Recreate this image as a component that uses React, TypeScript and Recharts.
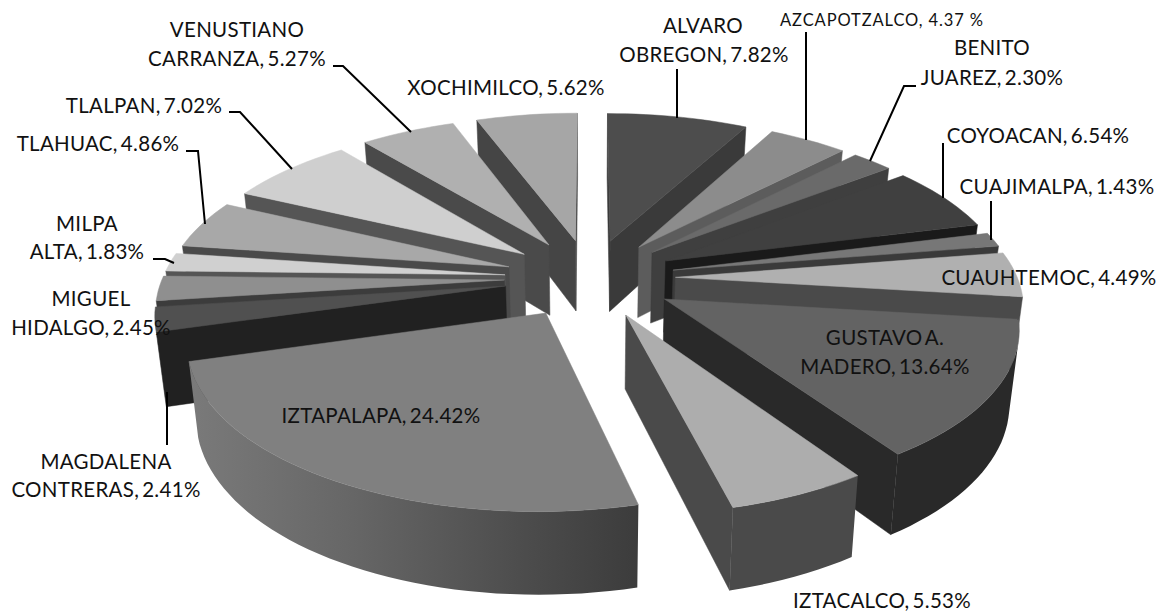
import { PieChart, Pie } from 'recharts';

const districts = [
  'ALVARO OBREGON', 'AZCAPOTZALCO', 'BENITO JUAREZ', 'COYOACAN', 'CUAJIMALPA', 'CUAUHTEMOC',
  'GUSTAVO A. MADERO', 'IZTACALCO', 'IZTAPALAPA', 'MAGDALENA CONTRERAS', 'MIGUEL HIDALGO',
  'MILPA ALTA', 'TLAHUAC', 'TLALPAN', 'VENUSTIANO CARRANZA', 'XOCHIMILCO',
];
const shares = [7.82, 4.37, 2.3, 6.54, 1.43, 4.49, 13.64, 5.53, 24.42, 2.41, 2.45, 1.83, 4.86, 7.02, 5.27, 5.62];

const topFills = [
  '#4d4d4d', '#8c8c8c', '#6a6a6a', '#404040', '#777777', '#b0b0b0', '#636363', '#adadad',
  '#808080', '#505050', '#8f8f8f', '#d0d0d0', '#a8a8a8', '#cfcfcf', '#b0b0b0', '#a6a6a6',
];
const sideFills = [
  '#3a3a3a', '#5c5c5c', '#3f3f3f', '#1a1a1a', '#3a3a3a', '#4a4a4a', '#292929', '#4a4a4a',
  '#4a4a4a', '#212121', '#3c3c3c', '#555555', '#4a4a4a', '#555555', '#4a4a4a', '#454545',
];

const rows = districts.map((name, i) => ({ name, value: shares[i] }));

// right half runs clockwise from the top, left half counter-clockwise, so the back slices paint first
const SPLIT = 8;
const rightRows = rows.slice(0, SPLIT);
const leftRows = rows.slice(SPLIT).reverse();
const total = shares.reduce((s, v) => s + v, 0);
const rightSweep = (rightRows.reduce((s, d) => s + d.value, 0) / total) * 360;
const leftSweep = 360 - rightSweep;

// text position: [x, baseline y] per line; all centred
const labelLayout: Record<string, { lines: [string, number, number][]; small?: boolean; leader?: number[][] }> = {
  'ALVARO OBREGON': { lines: [['ALVARO', 703, 33], ['OBREGON, 7.82%', 704, 62]], leader: [[677, 69], [677, 118]] },
  AZCAPOTZALCO: { lines: [['AZCAPOTZALCO, 4.37 %', 882, 26]], small: true, leader: [[806, 32], [806, 140]] },
  'BENITO JUAREZ': { lines: [['BENITO', 992, 55], ['JUAREZ, 2.30%', 992, 85]], leader: [[916, 86], [904, 86], [870, 161]] },
  COYOACAN: { lines: [['COYOACAN, 6.54%', 1038, 143]], leader: [[943, 143], [943, 198]] },
  CUAJIMALPA: { lines: [['CUAJIMALPA, 1.43%', 1057, 194]], leader: [[991, 201], [991, 240]] },
  CUAUHTEMOC: { lines: [['CUAUHTEMOC, 4.49%', 1049, 285]] },
  'GUSTAVO A. MADERO': { lines: [['GUSTAVO A.', 885, 345], ['MADERO, 13.64%', 885, 374]] },
  IZTACALCO: { lines: [['IZTACALCO, 5.53%', 882, 608]] },
  IZTAPALAPA: { lines: [['IZTAPALAPA, 24.42%', 381, 423]] },
  'MAGDALENA CONTRERAS': { lines: [['MAGDALENA', 106, 469], ['CONTRERAS, 2.41%', 106, 497]], leader: [[167, 392], [167, 445]] },
  'MIGUEL HIDALGO': { lines: [['MIGUEL', 91, 306], ['HIDALGO, 2.45%', 91, 335]] },
  'MILPA ALTA': { lines: [['MILPA', 87, 231], ['ALTA, 1.83%', 87, 259]], leader: [[153, 259], [165, 259], [174, 263]] },
  TLAHUAC: { lines: [['TLAHUAC, 4.86%', 98, 151]], leader: [[186, 151], [198, 151], [205, 224]] },
  TLALPAN: { lines: [['TLALPAN, 7.02%', 144, 113]], leader: [[229, 112], [240, 112], [292, 169]] },
  'VENUSTIANO CARRANZA': { lines: [['VENUSTIANO', 237, 37], ['CARRANZA, 5.27%', 237, 66]], leader: [[333, 66], [343, 66], [411, 132]] },
  XOCHIMILCO: { lines: [['XOCHIMILCO, 5.62%', 506, 95]] },
};

const TILT = 0.459;
const PERSPECTIVE = 0.15;
const EXPLODE = 0.25;
const DEPTH = 72;

type Pt = { x: number; y: number; v: number };

function project(u: number, v: number, r: number, cx: number, cy: number): Pt {
  const w = 1 + PERSPECTIVE * v;
  return { x: cx + (r * u) / w, y: cy - (r * TILT * v) / w, v };
}

function drop(p: Pt, cx: number): Pt {
  return { x: cx + (p.x - cx) * 0.977, y: p.y + DEPTH / (1 + 0.11 * p.v), v: p.v };
}

const toPath = (pts: Pt[]) => 'M' + pts.map((p) => `${p.x.toFixed(1)},${p.y.toFixed(1)}`).join('L') + 'Z';

function quadArea(pts: Pt[]) {
  let a = 0;
  pts.forEach((p, i) => {
    const q = pts[(i + 1) % pts.length];
    a += p.x * q.y - q.x * p.y;
  });
  return a;
}

function Slice3D(props: any) {
  const { cx, cy, outerRadius, startAngle, endAngle } = props;
  const name = props.name ?? props.payload?.name;
  const i = districts.indexOf(name);
  // clockwise degrees from 12 o'clock
  const t0 = Math.min(90 - startAngle, 90 - endAngle);
  const t1 = Math.max(90 - startAngle, 90 - endAngle);
  const mid = (((t0 + t1) / 2) * Math.PI) / 180;
  const ox = EXPLODE * Math.sin(mid);
  const oy = EXPLODE * Math.cos(mid);
  const apex = project(ox, oy, outerRadius, cx, cy);
  const steps = Math.max(2, Math.ceil((t1 - t0) / 2));
  const arc: Pt[] = [];
  for (let k = 0; k <= steps; k++) {
    const t = ((t0 + ((t1 - t0) * k) / steps) * Math.PI) / 180;
    arc.push(project(ox + Math.sin(t), oy + Math.cos(t), outerRadius, cx, cy));
  }
  const side = (a: Pt, b: Pt) => [a, b, drop(b, cx), drop(a, cx)];
  const faces = [side(apex, arc[0]), side(arc[arc.length - 1], apex)].filter((q) => quadArea(q) < 0);
  const wallTop = arc.filter((_, k) => {
    const prev = arc[k - 1];
    const next = arc[k + 1];
    return (prev && quadArea(side(prev, arc[k])) < 0) || (next && quadArea(side(arc[k], next)) < 0);
  });
  const wall = wallTop.length > 1 ? [...wallTop, ...wallTop.map((p) => drop(p, cx)).reverse()] : null;
  const top = topFills[i];
  const sideFill = sideFills[i];
  const wallFill = name === 'IZTAPALAPA' ? 'url(#iztapalapaWall)' : sideFill;
  return (
    <g>
      {faces.map((q, k) => (
        <path key={k} d={toPath(q)} fill={sideFill} stroke={sideFill} strokeWidth={0.5} />
      ))}
      {wall && <path d={toPath(wall)} fill={wallFill} />}
      <path d={toPath([apex, ...arc])} fill={top} stroke={top} strokeWidth={0.5} />
    </g>
  );
}

function DistrictLabel(props: any) {
  const layout = labelLayout[props.name ?? props.payload?.name];
  if (!layout) return null;
  return (
    <g>
      {layout.leader && (
        <polyline points={layout.leader.map((p) => p.join(',')).join(' ')} fill="none" stroke="#000" strokeWidth={2} />
      )}
      {layout.lines.map(([text, x, y]) => (
        <text
          key={text}
          x={x}
          y={y}
          textAnchor="middle"
          fontFamily="Lato, sans-serif"
          fontSize={layout.small ? 16.5 : 20.5}
          letterSpacing={layout.small ? 0.9 : 0.3}
          wordSpacing={layout.small ? 0 : -2.5}
          fill="#111"
        >
          {text}
        </text>
      ))}
    </g>
  );
}

export default function App() {
  return (
    <div style={{ position: 'absolute', left: 0, top: 0, width: 1159, height: 612, background: '#fff', overflow: 'hidden' }}>
      <PieChart width={1159} height={612} margin={{ top: 0, right: 0, bottom: 0, left: 0 }}>
        <defs>
          <linearGradient id="iztapalapaWall" x1="0" y1="0" x2="1" y2="0">
            <stop offset="0%" stopColor="#7a7a7a" />
            <stop offset="35%" stopColor="#676767" />
            <stop offset="75%" stopColor="#4c4c4c" />
            <stop offset="100%" stopColor="#3c3c3c" />
          </linearGradient>
        </defs>
        <Pie
          data={rightRows}
          dataKey="value"
          nameKey="name"
          cx={590}
          cy={278}
          innerRadius={0}
          outerRadius={342}
          startAngle={90}
          endAngle={90 - rightSweep}
          shape={Slice3D}
          label={DistrictLabel}
          labelLine={false}
          stroke="none"
          isAnimationActive={false}
        />
        <Pie
          data={leftRows}
          dataKey="value"
          nameKey="name"
          cx={590}
          cy={278}
          innerRadius={0}
          outerRadius={342}
          startAngle={90}
          endAngle={90 + leftSweep}
          shape={Slice3D}
          label={DistrictLabel}
          labelLine={false}
          stroke="none"
          isAnimationActive={false}
        />
      </PieChart>
    </div>
  );
}
